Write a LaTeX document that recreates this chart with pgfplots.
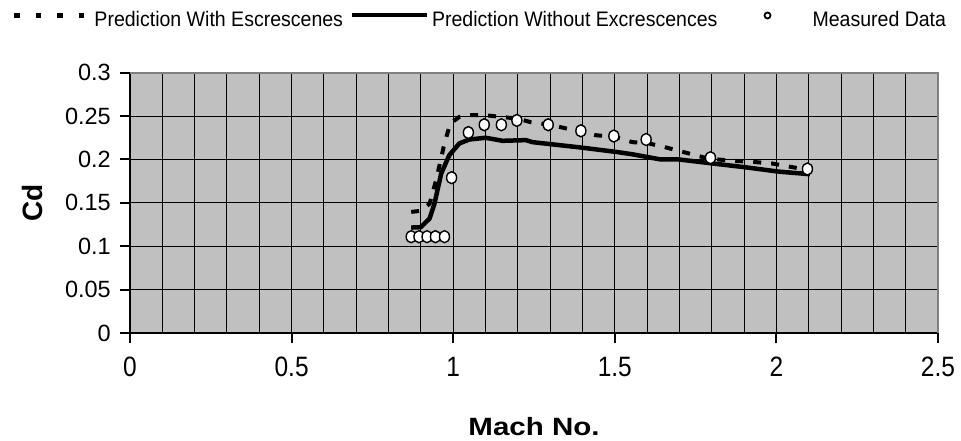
\documentclass[border=0pt]{standalone}
\usepackage{fontspec}
\setmainfont{Liberation Sans}
\newfontfamily\tickfont{Liberation Sans}[FakeStretch=0.875]
\newfontfamily\legfont{Liberation Sans}[FakeStretch=0.93]
\newfontfamily\widefont{Liberation Sans}[FakeStretch=1.18]
\usepackage{pgfplots}
\pgfplotsset{compat=1.18}
\definecolor{plotgray}{HTML}{C0C0C0}
\definecolor{framegray}{HTML}{808080}

\begin{document}
\begin{tikzpicture}
\path[use as bounding box] (0pt,0pt) rectangle (961pt,-441pt);
\begin{axis}[
  at={(130pt,-333pt)}, anchor=south west,
  width=808pt, height=260.3pt, scale only axis,
  xmin=0, xmax=2.5, ymin=0, ymax=0.3,
  clip=false,
  axis x line*=bottom, axis y line*=left,
  axis line style={black, line width=2pt},
  axis background/.style={fill=plotgray},
  xtick={0,0.5,1,1.5,2,2.5},
  xticklabels={0,0.5,1,1.5,2,2.5},
  minor xtick={0.1,0.2,0.3,0.4,0.6,0.7,0.8,0.9,1.1,1.2,1.3,1.4,1.6,1.7,1.8,1.9,2.1,2.2,2.3,2.4},
  ytick={0,0.05,0.1,0.15,0.2,0.25,0.3},
  yticklabels={0,0.05,0.1,0.15,0.2,0.25,0.3},
  xmajorgrids, xminorgrids, ymajorgrids,
  grid style={black, line width=1pt},
  minor grid style={black, line width=1pt},
  tick align=outside,
  major tick length=10pt, minor tick length=0pt,
  tick style={black, line width=2pt},
  xticklabel style={font=\tickfont\fontsize{28}{28}\selectfont, inner sep=0pt, yshift=-14pt},
  yticklabel style={font=\fontsize{23.5}{23.5}\selectfont, inner sep=0pt, xshift=-9pt},
  every axis x label/.style={at={(rel axis cs:0.5,0)}, anchor=center, yshift=-94pt,
    font=\widefont\bfseries\fontsize{25}{25}\selectfont},
  every axis y label/.style={at={(rel axis cs:0,0.5)}, xshift=-98pt, anchor=center, rotate=90,
    font=\bfseries\fontsize{28}{28}\selectfont},
  xlabel={Mach No.},
  ylabel={Cd},
  legend columns=3,
  legend style={at={(-0.14604,1.2052)}, anchor=west, draw=none, fill=none,
    inner sep=0pt, outer sep=0pt, nodes={inner sep=0pt},
    font=\legfont\fontsize{21}{21}\selectfont,
    /tikz/column sep=0pt},
  legend cell align=left,
]
% with excrescences
\addplot[black, line width=4pt, dash pattern=on 8pt off 10pt,
  legend image code/.code={
    \path[draw=none, fill=none] (0pt,0pt) -- (80pt,0pt);
    \draw[black, solid, line width=5pt, dash pattern=on 5.5pt off 16pt] (0pt,3.8pt) -- (71pt,3.8pt);}]
coordinates {
(0.87,0.1396) (0.90,0.1408) (0.927,0.149) (0.947,0.176) (0.973,0.2185)
(0.991,0.2415) (1.019,0.249) (1.05,0.251) (1.10,0.251) (1.20,0.247)
(1.24,0.243) (1.30,0.240) (1.37,0.234) (1.44,0.228) (1.50,0.226)
(1.554,0.220) (1.605,0.2185) (1.662,0.2135) (1.718,0.208) (1.79,0.201)
(1.863,0.1985) (1.924,0.1973) (1.986,0.1954) (2.043,0.1915) (2.10,0.188)};
\addlegendentry{Prediction With Escrescenes}
% without excrescences
\addplot[black, line width=4.5pt, line join=round,
  legend image code/.code={
    \path[draw=none, fill=none] (-9pt,0pt) -- (80pt,0pt);
    \draw[black, line width=4pt] (0pt,3.8pt) -- (75pt,3.8pt);}]
coordinates {
(0.87,0.1215) (0.90,0.122) (0.927,0.132) (0.942,0.149) (0.963,0.184)
(0.988,0.205) (1.019,0.2185) (1.05,0.223) (1.10,0.225) (1.153,0.2215)
(1.225,0.2223) (1.245,0.220) (1.39,0.214) (1.508,0.2085) (1.554,0.206)
(1.642,0.200) (1.698,0.200) (1.80,0.1955) (1.904,0.191) (2.007,0.186)
(2.104,0.183)};
\addlegendentry{Prediction Without Excrescences}
% measured
\addplot[only marks, mark=*, mark size=5pt,
  mark options={fill=white, draw=black, line width=1.4pt, yscale=1.2},
  legend image code/.code={
    \path[draw=none, fill=none] (-50pt,0pt) -- (45pt,0pt);
    \draw[black, fill=white, line width=1.8pt] (0pt,3.8pt) circle (3pt);}]
coordinates {
(0.87,0.111) (0.894,0.111) (0.919,0.111) (0.945,0.111) (0.973,0.111)
(0.995,0.179) (1.047,0.231) (1.096,0.240) (1.149,0.240) (1.197,0.245)
(1.294,0.240) (1.395,0.233) (1.497,0.227) (1.597,0.223) (1.796,0.202)
(2.096,0.189)};
\addlegendentry{Measured Data}
\draw[framegray, line width=2pt] (rel axis cs:0,1) -- (rel axis cs:1,1) -- (rel axis cs:1,0);
\end{axis}
\end{tikzpicture}
\end{document}
